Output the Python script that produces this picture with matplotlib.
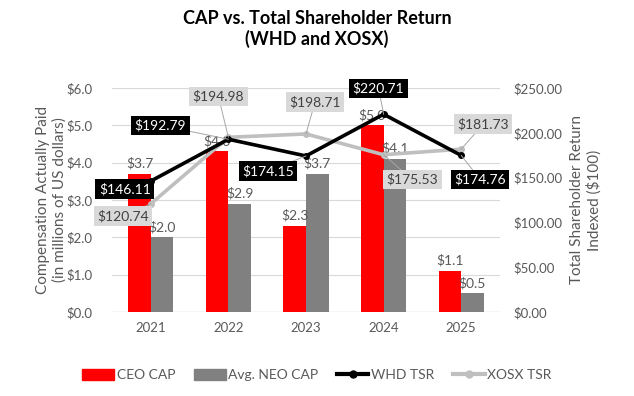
import matplotlib
matplotlib.use("Agg")
import matplotlib.pyplot as plt
import numpy as np
from matplotlib.lines import Line2D
from matplotlib.patches import Patch

plt.rcParams['font.family'] = ['Lato', 'DejaVu Sans']

years = ["2021", "2022", "2023", "2024", "2025"]
ceo_cap = [3.7, 4.3, 2.3, 5.0, 1.1]
neo_cap = [2.0, 2.9, 3.7, 4.1, 0.5]
whd_tsr = [146.11, 192.79, 174.15, 220.71, 174.76]
xosx_tsr = [120.74, 194.98, 198.71, 175.53, 181.73]

# label offsets (pixels, from the point to the label centre)
whd_off = [(-26, -8), (-68, 14), (-38, -15), (-5, 26), (19, -24)]
xosx_off = [(-28, -12), (-10, 41), (9, 32), (29, -25), (22, 25)]

TXT = '#595959'
fig = plt.figure(figsize=(6.34, 3.96), dpi=100)
ax = fig.add_axes([112/634, 1-312/396, 388/634, 224/396])
ax2 = ax.twinx()

x = np.arange(len(years))
w = 0.29
ax.bar(x - w/2, ceo_cap, w, color='#FF0000', zorder=2)
ax.bar(x + w/2, neo_cap, w, color='#808080', zorder=2)
for xi, v in zip(x, ceo_cap):
    ax.annotate(f"${v:.1f}", (xi - w/2, v), xytext=(0, 3), textcoords='offset points',
                ha='center', va='bottom', fontsize=10, color=TXT)
for xi, v in zip(x, neo_cap):
    ax.annotate(f"${v:.1f}", (xi + w/2, v), xytext=(0, 3), textcoords='offset points',
                ha='center', va='bottom', fontsize=10, color=TXT)

ax.set_xlim(-0.5, len(years) - 0.5)
ax.set_ylim(0, 6)
ax.set_yticks(np.arange(0, 6.01, 1))
ax.set_yticklabels([f"${v:.1f}" for v in np.arange(0, 6.01, 1)])
ax.set_xticks(x)
ax.set_xticklabels(years)
ax.yaxis.grid(True, color='#D9D9D9', lw=0.8, zorder=0)
ax.set_axisbelow(True)
for s in ['top', 'right', 'left', 'bottom']:
    ax.spines[s].set_visible(False)
    ax2.spines[s].set_visible(False)
ax.axhline(0, color='#D9D9D9', lw=1, zorder=1)
ax.tick_params(axis='both', length=0, colors=TXT, labelsize=9.5)
ax.tick_params(axis='y', pad=14)
ax.tick_params(axis='x', pad=7)
ax.set_ylabel("Compensation Actually Paid\n(in millions of US dollars)", fontsize=11, color=TXT, labelpad=0)

ax2.set_ylim(0, 250)
ax2.set_yticks(np.arange(0, 251, 50))
ax2.set_yticklabels([f"${v:.2f}" for v in np.arange(0, 251, 50)])
ax2.tick_params(axis='y', length=0, colors=TXT, labelsize=9.5, pad=10)
ax2.set_ylabel("Total Shareholder Return\nIndexed ($100)", fontsize=11, color=TXT, labelpad=5)

ax2.plot(x, xosx_tsr, color='#BFBFBF', lw=2.6, marker='o', ms=4, zorder=3)
ax2.plot(x, whd_tsr, color='#000000', lw=2.6, marker='o', ms=4, zorder=4)

px2pt = 72 / 100
for xi, v, (dx, dy) in zip(x, whd_tsr, whd_off):
    ax2.annotate(f"${v:.2f}", (xi, v), xytext=(dx*px2pt, dy*px2pt), textcoords='offset points',
                 ha='center', va='center', fontsize=10, color='white', zorder=6,
                 bbox=dict(boxstyle='square,pad=0.25', fc='black', ec='none'),
                 arrowprops=dict(arrowstyle='-', color='#A6A6A6', lw=0.7, shrinkA=0, shrinkB=0))
for xi, v, (dx, dy) in zip(x, xosx_tsr, xosx_off):
    ax2.annotate(f"${v:.2f}", (xi, v), xytext=(dx*px2pt, dy*px2pt), textcoords='offset points',
                 ha='center', va='center', fontsize=10, color='#404040', zorder=5,
                 bbox=dict(boxstyle='square,pad=0.25', fc='#D9D9D9', ec='none'),
                 arrowprops=dict(arrowstyle='-', color='#A6A6A6', lw=0.7, shrinkA=0, shrinkB=0))

fig.text(0.5, 1-29/396, "CAP vs. Total Shareholder Return\n(WHD and XOSX)", ha='center', va='center',
         fontsize=13, fontweight='bold', color='black', linespacing=1.25)

handles = [Patch(color='#FF0000'), Patch(color='#808080'),
           Line2D([], [], color='black', lw=3, marker='o', ms=5),
           Line2D([], [], color='#BFBFBF', lw=3, marker='o', ms=5)]
labels = ["CEO CAP", "Avg. NEO CAP", "WHD TSR", "XOSX TSR"]
fig.legend(handles, labels, loc='center', bbox_to_anchor=(0.5, 1-375/396), ncol=4, frameon=False,
           fontsize=10, labelcolor=TXT, handlelength=2.3, handleheight=0.8, columnspacing=1.3,
           handletextpad=0.2)

fig.savefig("out.png", dpi=100)
